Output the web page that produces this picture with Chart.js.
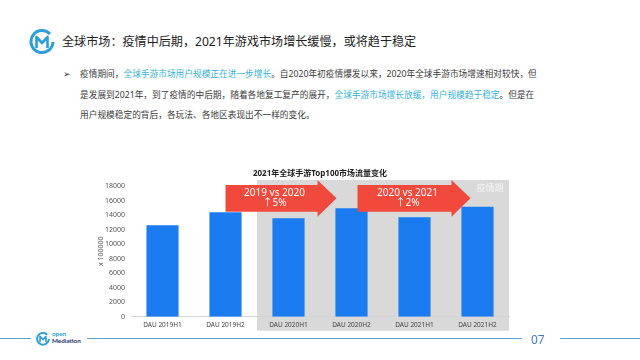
<!DOCTYPE html>
<html>
<head>
<meta charset="utf-8">
<script src="https://cdn.jsdelivr.net/npm/chart.js@4.4.0/dist/chart.umd.min.js"></script>
<style>
  html, body { margin: 0; padding: 0; background: #fff; }
  body { width: 640px; height: 360px; position: relative; overflow: hidden;
         font-family: 'Noto Sans', 'Noto Sans CJK SC', sans-serif; }
  .abs { position: absolute; }
  #title { left: 62px; top: 32px; font-size: 12.1px; color: #222; white-space: nowrap; line-height: 20px; }
  #bullet { left: 63px; top: 64px; font-size: 9px; color: #333; line-height: 20px; }
  #para { left: 80px; top: 64px; font-size: 8.7px; color: #3a3a3a; line-height: 20.5px; white-space: nowrap; }
  .hl { color: #35b3d8; }
  .fline { height: 1px; background: #5ba6d8; top: 338px; }
  #pageNo { left: 531px; top: 331px; font-size: 12px; color: #3f7fc2; }
  #chartBox { left: 90px; top: 160px; width: 440px; height: 180px; }
  #flogoText { left: 52px; top: 331px; font-size: 6.3px; line-height: 6.5px; font-weight: bold; font-family: 'Lato', 'Noto Sans', sans-serif; }
</style>
</head>
<body>

<svg class="abs" style="left:29px;top:29px" width="26" height="26" viewBox="0 0 26 26">
  <path d="M21 5 A11 11 0 1 0 24 13" fill="none" stroke="#2b9fd9" stroke-width="3"/>
  <path d="M7.5 19 L7.5 8 L13 14 L18.5 8 L18.5 19" fill="none" stroke="#2b9fd9" stroke-width="2.6" stroke-linejoin="round"/>
</svg>
<div id="title" class="abs">全球市场：疫情中后期，2021年游戏市场增长缓慢，或将趋于稳定</div>

<div id="bullet" class="abs">➢</div>
<div id="para" class="abs">疫情期间，<span class="hl">全球手游市场用户规模正在进一步增长</span>。自2020年初疫情爆发以来，2020年全球手游市场增速相对较快，但<br>是发展到2021年，到了疫情的中后期，随着各地复工复产的展开，<span class="hl">全球手游市场增长放缓，用户规模趋于稳定</span>。但是在<br>用户规模稳定的背后，各玩法、各地区表现出不一样的变化。</div>

<div id="chartBox" class="abs"><canvas id="dauChart" width="440" height="180"></canvas></div>

<div class="abs fline" style="left:0;width:31px"></div>
<svg class="abs" style="left:36px;top:332px" width="14" height="14" viewBox="0 0 26 26">
  <path d="M21 5 A11 11 0 1 0 24 13" fill="none" stroke="#2b9fd9" stroke-width="3.5"/>
  <path d="M7.5 19 L7.5 8 L13 14 L18.5 8 L18.5 19" fill="none" stroke="#2b9fd9" stroke-width="3" stroke-linejoin="round"/>
</svg>
<div id="flogoText" class="abs"><span style="color:#2b9fd9">open</span><br><span style="color:#1d2f6b">Mediation</span></div>
<div class="abs fline" style="left:87px;width:435px"></div>
<div id="pageNo" class="abs">07</div>
<div class="abs fline" style="left:560px;width:80px"></div>

<script>
// dados
const categories = ['DAU 2019H1', 'DAU 2019H2', 'DAU 2020H1', 'DAU 2020H2', 'DAU 2021H1', 'DAU 2021H2'];
const dauValues = [12600, 14400, 13550, 14950, 13700, 15150];
const yTickMax = 18000;
const yTickStep = 2000;
const chartTitle = '2021年全球手游Top100市场流量变化';
const shadeLabel = '疫情期';
const arrowLines1 = ['2019 vs 2020', '↑5%'];
const arrowLines2 = ['2020 vs 2021', '↑2%'];

const FONT = "'Noto Sans', 'Noto Sans CJK SC', sans-serif";

function drawArrow(ctx, x0, headX, tipX, top, lines) {
    const bt = top - 1, bb = top + 25.7, ht = top - 6, hb = top + 30.7;
    const mid = (bt + bb) / 2;
    ctx.fillStyle = '#f2493d';
    ctx.beginPath();
    ctx.moveTo(x0, bt);
    ctx.lineTo(headX, bt);
    ctx.lineTo(headX, ht);
    ctx.lineTo(tipX, mid);
    ctx.lineTo(headX, hb);
    ctx.lineTo(headX, bb);
    ctx.lineTo(x0, bb);
    ctx.closePath();
    ctx.fill();

    const cx = (x0 + headX) / 2 + 3;
    ctx.fillStyle = '#ffffff';
    ctx.textAlign = 'center';
    ctx.textBaseline = 'middle';
    ctx.font = '10px ' + FONT;
    ctx.fillText(lines[0], cx, top + 6.7);
    ctx.fillText(lines[1], cx, top + 17.5);
}

// plugin para o fundo cinza, setas e título
const decorPlugin = {
    id: 'decor',
    beforeDraw(chart) {
        const { ctx, chartArea, scales } = chart;
        const xs = scales.x;
        const step = xs.getPixelForValue(1) - xs.getPixelForValue(0);
        const x0 = xs.getPixelForValue(2) - step / 2;
        ctx.save();
        ctx.fillStyle = '#d9d9d9';
        ctx.fillRect(x0, chartArea.top - 6, chartArea.right - x0, chartArea.bottom - chartArea.top + 20);
        ctx.fillStyle = '#f4f4f4';
        ctx.font = '9px ' + FONT;
        ctx.textAlign = 'center';
        ctx.textBaseline = 'middle';
        ctx.fillText(shadeLabel, chartArea.right - 19, chartArea.top + 2);
        ctx.restore();
    },
    afterDatasetsDraw(chart) {
        const { ctx, chartArea, scales } = chart;
        const xs = scales.x;
        const c1 = xs.getPixelForValue(1), c3 = xs.getPixelForValue(3), c5 = xs.getPixelForValue(5);
        ctx.save();
        drawArrow(ctx, c1, c3 - 34, c3 - 15, chartArea.top, arrowLines1);
        drawArrow(ctx, c3 + 6, c5 - 26, c5 - 7, chartArea.top, arrowLines2);

        ctx.fillStyle = '#222';
        ctx.font = 'bold 8px ' + FONT;
        ctx.textAlign = 'center';
        ctx.textBaseline = 'middle';
        ctx.fillText(chartTitle, 230, 14);
        ctx.restore();
    }
};

new Chart(document.getElementById('dauChart'), {
    type: 'bar',
    data: {
        labels: categories,
        datasets: [{
            label: 'DAU',
            data: dauValues,
            backgroundColor: '#1b7cf1',
            barPercentage: 0.51,
            categoryPercentage: 1
        }]
    },
    options: {
        responsive: false,
        animation: false,
        devicePixelRatio: 1,
        layout: { padding: { left: 0, top: 26, right: 21, bottom: 0 } },
        plugins: {
            legend: { display: false },
            title: { display: false },
            tooltip: { enabled: false }
        },
        scales: {
            x: {
                grid: { display: false, drawTicks: false },
                border: { display: true, color: '#d4d4d4' },
                ticks: { color: '#444', font: { size: 6.5, family: FONT }, padding: 5, maxRotation: 0 },
                afterFit(scale) { scale.height = 23.3; }
            },
            y: {
                min: 0,
                max: yTickMax,
                grid: { display: false, drawTicks: false },
                border: { display: false },
                ticks: {
                    stepSize: yTickStep, color: '#555', font: { size: 7, family: FONT }, padding: 6,
                    callback: (value) => String(value)
                },
                title: { display: true, text: 'x 100000', color: '#555', font: { size: 7, family: FONT }, padding: { top: 7, bottom: 0 } },
                afterFit(scale) { scale.width = 41; }
            }
        }
    },
    plugins: [decorPlugin]
});
</script>
</body>
</html>
